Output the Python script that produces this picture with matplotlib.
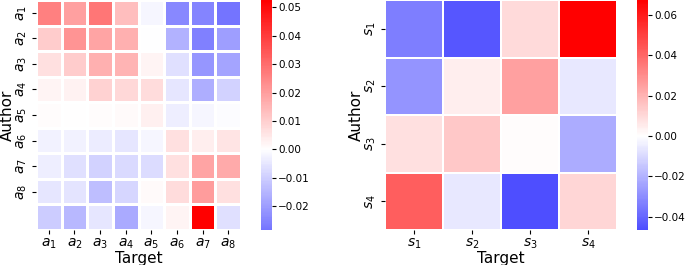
import numpy as np
import matplotlib
matplotlib.use('Agg')
from matplotlib import pyplot as plt
from matplotlib.colors import ListedColormap, Normalize

# left panel: 9 author rows x 8 target columns (only 8 row labels in the original)
left_cols = [r'$a_1$', r'$a_2$', r'$a_3$', r'$a_4$', r'$a_5$', r'$a_6$', r'$a_7$', r'$a_8$']
left_rows = [r'$a_1$', r'$a_2$', r'$a_3$', r'$a_4$', r'$a_5$', r'$a_6$', r'$a_7$', r'$a_8$']
left_vals = np.array([
    [0.0260, 0.0195, 0.0280, 0.0134, -0.0020, -0.0240, -0.0250, -0.0284],
    [0.0103, 0.0216, 0.0186, 0.0165, 0.0000, -0.0155, -0.0260, -0.0196],
    [0.0062, 0.0103, 0.0165, 0.0155, 0.0020, -0.0064, -0.0217, -0.0186],
    [0.0020, 0.0027, 0.0093, 0.0083, 0.0072, -0.0050, -0.0165, -0.0093],
    [0.0004, 0.0003, 0.0006, 0.0013, 0.0030, -0.0037, -0.0020, -0.0004],
    [-0.0027, -0.0027, -0.0040, -0.0052, -0.0020, 0.0062, 0.0035, 0.0056],
    [-0.0035, -0.0062, -0.0093, -0.0077, -0.0072, 0.0062, 0.0186, 0.0175],
    [-0.0050, -0.0056, -0.0134, -0.0083, 0.0010, 0.0072, 0.0206, 0.0062],
    [-0.0103, -0.0144, -0.0052, -0.0176, -0.0020, 0.0020, 0.0526, -0.0062],
])

right_cols = [r'$s_1$', r'$s_2$', r'$s_3$', r'$s_4$']
right_rows = [r'$s_1$', r'$s_2$', r'$s_3$', r'$s_4$']
right_vals = np.array([
    [-0.0340, -0.0440, 0.0098, 0.0673],
    [-0.0280, 0.0045, 0.0250, -0.0060],
    [0.0080, 0.0145, 0.0010, -0.0220],
    [0.0420, -0.0060, -0.0465, 0.0105],
])


def centered_cmap(vmin, vmax):
    # cut bwr so that 0 stays white, like seaborn's center=0
    vr = max(abs(vmin), abs(vmax))
    lo = 0.5 + vmin / (2 * vr)
    hi = 0.5 + vmax / (2 * vr)
    return ListedColormap(plt.cm.bwr(np.linspace(lo, hi, 256)))


def heat(fig, rect, crect, vals, xlabels, ylabels, ticks, lw):
    ax = fig.add_axes(rect)
    cax = fig.add_axes(crect)
    vmin, vmax = vals.min(), vals.max()
    mesh = ax.pcolormesh(vals, cmap=centered_cmap(vmin, vmax),
                         norm=Normalize(vmin, vmax),
                         edgecolors='white', linewidth=lw)
    ax.set_xlim(0, vals.shape[1])
    ax.set_ylim(vals.shape[0], 0)
    ax.set_xticks(np.arange(len(xlabels)) + 0.5)
    ax.set_xticklabels(xlabels, fontsize=10)
    ax.set_yticks(np.arange(len(ylabels)) + 0.5)
    ax.set_yticklabels(ylabels, fontsize=10, rotation=90, va='center')
    ax.tick_params(length=3, pad=2)
    for s in ax.spines.values():
        s.set_visible(False)
    ax.set_xlabel('Target', fontsize=11, labelpad=0)
    ax.set_ylabel('Author', fontsize=11, labelpad=0)
    cb = fig.colorbar(mesh, cax=cax, ticks=ticks)
    cb.outline.set_visible(False)
    cb.ax.tick_params(labelsize=7.5, length=3, pad=1.5)
    cb.ax.set_yticklabels([f'{t:.2f}'.replace('-', '\u2212') for t in ticks])
    return ax


fig = plt.figure(figsize=(6.85, 2.65), dpi=100)
W, H = 685.0, 265.0
heat(fig, [36 / W, 35 / H, 205 / W, 230 / H], [261 / W, 35 / H, 11 / W, 230 / H],
     left_vals, left_cols, left_rows,
     [-0.02, -0.01, 0.0, 0.01, 0.02, 0.03, 0.04, 0.05], 0.8)
heat(fig, [385 / W, 35 / H, 232 / W, 230 / H], [637 / W, 35 / H, 11 / W, 230 / H],
     right_vals, right_cols, right_rows,
     [-0.04, -0.02, 0.0, 0.02, 0.04, 0.06], 0.3)

fig.savefig('out.png', dpi=100)
